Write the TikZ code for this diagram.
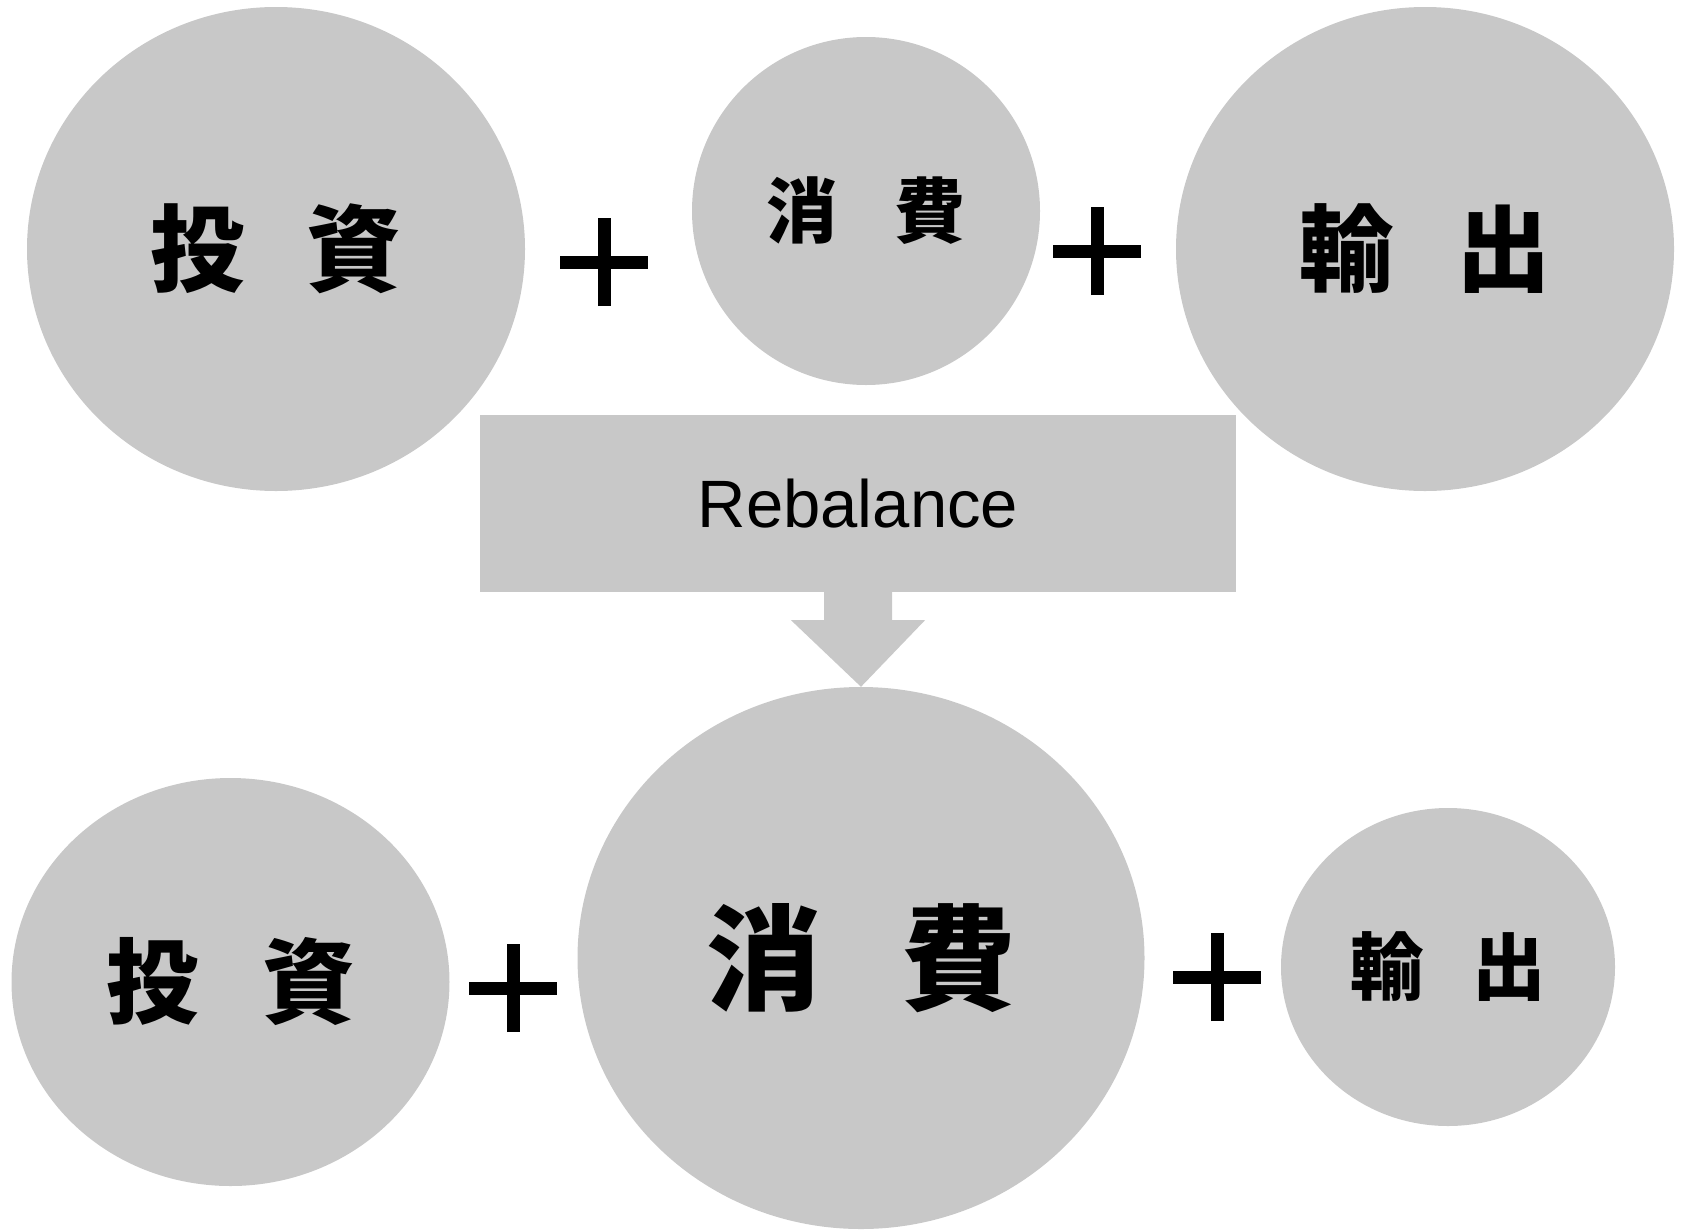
\documentclass[tikz,border=0pt]{standalone}
\usepackage{fontspec}
\setmainfont{Liberation Sans}
\newfontfamily\cjk{Noto Sans CJK JP}
\usetikzlibrary{shapes.geometric}
\definecolor{bubblegray}{RGB}{200,200,200}
\tikzset{
  bubble/.style={ellipse, fill=bubblegray, inner sep=0pt},
  plusbar/.style={line width=13pt, black},
}
\newcommand{\kanji}[2]{\cjk\bfseries\fontsize{#1}{#1}\selectfont#2}

\begin{document}
\begin{tikzpicture}[x=1pt, y=-1pt]
			\useasboundingbox (0,0) rectangle (1681,1229);
			% before
			\node[bubble, minimum width=498pt, minimum height=484pt] (invA) at (276,249)
				{\kanji{94.5}{投\hspace{62pt}資}};
			\node[bubble, minimum width=348pt, minimum height=348pt] (conA) at (866,211)
				{\kanji{71}{消\hspace{57pt}費}};
			\node[bubble, minimum width=498pt, minimum height=484pt] (expA) at (1425,249)
				{\kanji{94.5}{輸\hspace{62pt}出}};
			\coordinate (plusA1) at (604,262);
			\coordinate (plusA2) at (1097,251);
			% rebalance box and arrow
			\node[fill=bubblegray, minimum width=756pt, minimum height=177pt, inner sep=0pt,
				font=\fontsize{67}{67}\selectfont] (rebal) at (858,503.5) {Rebalance};
			% after
			\node[bubble, minimum width=438pt, minimum height=408pt] (invB) at (230.5,982)
				{\kanji{92.5}{投\hspace{63.5pt}資}};
			\node[bubble, minimum width=567pt, minimum height=542pt] (conB) at (861,958)
				{\kanji{114.5}{消\hspace{81pt}費}};
			\node[bubble, minimum width=334pt, minimum height=318pt] (expB) at (1448,967)
				{\kanji{73.5}{輸\hspace{49pt}出}};
			\coordinate (plusB1) at (513,988);
			\coordinate (plusB2) at (1217,977);
			\fill[bubblegray] ([xshift=-34pt]rebal.south) -- ([xshift=-34pt,yshift=-28pt]rebal.south)
				-- ([xshift=-67pt,yshift=-28pt]rebal.south) -- (conB.north)
				-- ([xshift=67pt,yshift=-28pt]rebal.south) -- ([xshift=34pt,yshift=-28pt]rebal.south)
				-- ([xshift=34pt]rebal.south) -- cycle;
			\foreach \p in {plusA1,plusA2,plusB1,plusB2}{
				\draw[plusbar] ([xshift=-44pt]\p) -- ([xshift=44pt]\p);
				\draw[plusbar] ([yshift=-44pt]\p) -- ([yshift=44pt]\p);
			}
\end{tikzpicture}
\end{document}
